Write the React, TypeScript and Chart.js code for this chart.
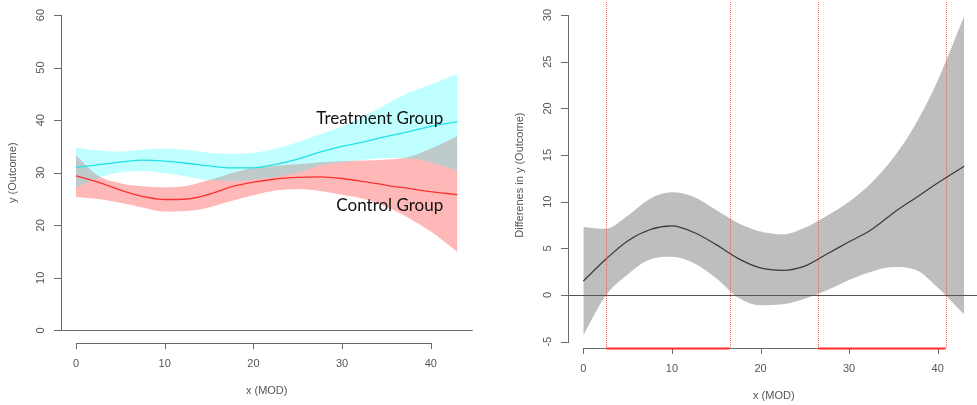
import React, { useEffect, useRef } from "react";
import { Chart, registerables } from "chart.js";
Chart.register(...registerables);

// ---------- data ----------
const modX = [0, 2.5, 5, 7.5, 10, 12.5, 15, 17.5, 20, 22.5, 25, 27.5, 30, 32.5, 35, 37.5, 40, 43];

const treatFit = [31.0, 31.5, 32.0, 32.4, 32.2, 31.8, 31.3, 30.9, 30.9, 31.6, 32.6, 33.9, 35.0, 35.9, 36.9, 37.8, 38.8, 39.7];
const treatUpper = [34.8, 34.2, 34.0, 34.4, 34.6, 34.3, 33.8, 33.6, 33.8, 34.6, 35.8, 37.3, 38.8, 40.8, 43.0, 45.2, 46.8, 48.8];
const treatLower = [27.2, 29.0, 30.1, 30.3, 29.9, 29.3, 28.6, 28.4, 28.7, 29.2, 30.0, 31.3, 32.0, 32.5, 32.8, 32.7, 32.0, 30.3];

const ctrlFit = [29.4, 28.2, 26.7, 25.5, 24.9, 25.0, 25.9, 27.3, 28.2, 28.8, 29.1, 29.2, 28.9, 28.3, 27.6, 27.0, 26.4, 25.8];
const ctrlUpper = [33.3, 29.4, 28.0, 27.4, 27.2, 27.5, 28.6, 29.9, 30.9, 31.3, 31.6, 32.0, 32.2, 32.3, 32.5, 33.0, 34.6, 37.0];
const ctrlLower = [25.4, 25.0, 24.3, 23.4, 22.6, 22.7, 23.4, 24.6, 25.7, 26.6, 26.9, 26.5, 25.8, 25.0, 23.5, 21.4, 18.8, 14.9];

const diffFit = [1.5, 3.8, 5.8, 7.0, 7.4, 6.7, 5.4, 3.9, 2.9, 2.65, 3.1, 4.4, 5.7, 7.0, 8.8, 10.4, 12.0, 13.8];
const diffUpper = [7.3, 7.1, 8.5, 10.3, 11.0, 10.5, 9.1, 7.7, 6.8, 6.5, 7.2, 8.5, 10.0, 12.0, 14.7, 18.3, 23.0, 29.9];
const diffLower = [-4.3, -0.1, 2.2, 3.8, 4.1, 3.4, 1.8, -0.3, -1.1, -1.0, -0.4, 0.5, 1.6, 2.5, 3.0, 2.7, 0.8, -2.1];

const xTicks = [0, 10, 20, 30, 40];
const leftYTicks = [0, 10, 20, 30, 40, 50, 60];
const rightYTicks = [-5, 0, 5, 10, 15, 20, 25, 30];
const sigBounds = [2.6, 16.5, 26.5, 40.9];

const xTitle = "x (MOD)";
const leftYTitle = "y (Outcome)";
const rightYTitle = "Differenes in y (Outcome)";
const groupLabels = ["Treatment Group", "Control Group"];

const pts = (ys: number[]) => modX.map((x, i) => ({ x, y: ys[i] }));

type Cfg = {
  yTicks: number[];
  yTitle: string;
  zeroColor: string;
  bounds?: number[];
  labels?: { text: string; x: number; y: number }[];
};

// ---------- one plugin instance per chart: R-style axes, ablines, labels ----------
function makeRPlugin(id: string, cfg: Cfg) {
  return {
    id,
    afterDatasetsDraw(chart: any) {
      const { ctx, chartArea: ca, scales } = chart;
      const xs = scales.x, ys = scales.y;
      ctx.save();
      ctx.setLineDash([]);
      // abline h = 0
      const y0 = Math.round(ys.getPixelForValue(0));
      ctx.fillStyle = cfg.zeroColor;
      ctx.fillRect(ca.left, y0, ca.right - ca.left, 1);
      if (cfg.bounds) {
        ctx.strokeStyle = "rgba(255,60,60,0.75)";
        ctx.lineWidth = 1;
        ctx.setLineDash([1, 1]);
        cfg.bounds.forEach((b) => {
          const p = Math.round(xs.getPixelForValue(b)) + 0.5;
          ctx.beginPath();
          ctx.moveTo(p, ca.top);
          ctx.lineTo(p, ca.bottom);
          ctx.stroke();
        });
        ctx.setLineDash([]);
      }
      if (cfg.labels) {
        ctx.fillStyle = "#111";
        ctx.font = "17px Lato, 'Open Sans', sans-serif";
        ctx.textAlign = "right";
        ctx.textBaseline = "middle";
        cfg.labels.forEach((l) => {
          ctx.fillText(l.text, xs.getPixelForValue(l.x), ys.getPixelForValue(l.y));
        });
      }
      ctx.restore();
    },
    afterDraw(chart: any) {
      const { ctx, chartArea: ca, scales } = chart;
      const xs = scales.x, ys = scales.y;
      ctx.save();
      ctx.setLineDash([]);
      ctx.globalAlpha = 1;
      ctx.globalCompositeOperation = "source-over";
      ctx.fillStyle = "#6a6a6a";
      // y axis line + ticks (as 1px rects)
      const left = Math.round(ca.left);
      const yt = cfg.yTicks;
      const yTop = Math.round(ys.getPixelForValue(yt[yt.length - 1]));
      const yBot = Math.round(ys.getPixelForValue(yt[0]));
      ctx.fillRect(left, yTop, 1, yBot - yTop + 1);
      yt.forEach((v) => {
        const p = Math.round(ys.getPixelForValue(v));
        ctx.fillRect(left - 7, p, 7, 1);
      });
      // x axis line + ticks
      const bottom = Math.round(ca.bottom);
      const xl = Math.round(xs.getPixelForValue(xTicks[0]));
      const xr = Math.round(xs.getPixelForValue(xTicks[xTicks.length - 1]));
      ctx.fillRect(xl, bottom, xr - xl + 1, 1);
      xTicks.forEach((v) => {
        const p = Math.round(xs.getPixelForValue(v));
        ctx.fillRect(p, bottom, 1, 6);
      });
      // significance segments on the x axis
      if (cfg.bounds) {
        const b = cfg.bounds;
        ctx.fillStyle = "#ff2a2a";
        for (let i = 0; i + 1 < b.length; i += 2) {
          const a = xs.getPixelForValue(b[i]);
          const c = xs.getPixelForValue(b[i + 1]);
          ctx.fillRect(a, bottom - 0.5, c - a, 2);
        }
      }
      // labels
      ctx.fillStyle = "#555";
      ctx.font = "11px 'Liberation Sans', Arial, sans-serif";
      ctx.textAlign = "center";
      ctx.textBaseline = "middle";
      yt.forEach((v) => {
        ctx.save();
        ctx.translate(left - 20.5, ys.getPixelForValue(v));
        ctx.rotate(-Math.PI / 2);
        ctx.fillText(String(v), 0, 0);
        ctx.restore();
      });
      ctx.save();
      ctx.translate(left - 48.5, (ca.top + ca.bottom) / 2);
      ctx.rotate(-Math.PI / 2);
      ctx.fillText(cfg.yTitle, 0, 0);
      ctx.restore();
      xTicks.forEach((v) => {
        ctx.fillText(String(v), xs.getPixelForValue(v), bottom + 20.5);
      });
      ctx.fillText(xTitle, (ca.left + ca.right) / 2, bottom + 47.5);
      ctx.restore();
    },
  };
}

const lineBase = {
  pointRadius: 0,
  cubicInterpolationMode: "monotone" as const,
  fill: false,
};

function LeftChart() {
  const ref = useRef<HTMLCanvasElement>(null);
  useEffect(() => {
    const chart = new Chart(ref.current!, {
      type: "line",
      data: {
        datasets: [
          { ...lineBase, data: pts(treatLower), borderWidth: 0, borderColor: "transparent" },
          { ...lineBase, data: pts(treatUpper), borderWidth: 0, borderColor: "transparent", fill: "-1", backgroundColor: "rgba(0,255,255,0.25)" },
          { ...lineBase, data: pts(treatFit), borderWidth: 1.3, borderColor: "#22e0e6" },
          { ...lineBase, data: pts(ctrlLower), borderWidth: 0, borderColor: "transparent" },
          { ...lineBase, data: pts(ctrlUpper), borderWidth: 0, borderColor: "transparent", fill: "-1", backgroundColor: "rgba(255,0,0,0.28)" },
          { ...lineBase, data: pts(ctrlFit), borderWidth: 1.3, borderColor: "#ff3030" },
        ],
      },
      options: {
        animation: false,
        responsive: false,
        events: [],
        layout: { padding: { left: 60.7, right: 17.3, top: 2.4, bottom: 62 } },
        scales: {
          x: { type: "linear", min: -1.72, max: 44.72, display: false },
          y: { type: "linear", min: -2.4, max: 62.4, display: false },
        },
        plugins: {
          legend: { display: false },
          tooltip: { enabled: false },
          filler: { drawTime: "beforeDatasetsDraw" },
        } as any,
      },
      plugins: [
        makeRPlugin("rLeft", {
          yTicks: leftYTicks,
          yTitle: leftYTitle,
          zeroColor: "#6a6a6a",
          labels: [
            { text: groupLabels[0], x: 41.4, y: 40.4 },
            { text: groupLabels[1], x: 41.4, y: 23.7 },
          ],
        }),
      ],
    });
    return () => chart.destroy();
  }, []);
  return <canvas ref={ref} width={490} height={405} style={{ position: "absolute", left: 0, top: 0, zIndex: 1 }} />;
}

function RightChart() {
  const ref = useRef<HTMLCanvasElement>(null);
  useEffect(() => {
    const chart = new Chart(ref.current!, {
      type: "line",
      data: {
        datasets: [
          { ...lineBase, data: pts(diffLower), borderWidth: 0, borderColor: "transparent" },
          { ...lineBase, data: pts(diffUpper), borderWidth: 0, borderColor: "transparent", fill: "-1", backgroundColor: "#bebebe" },
          { ...lineBase, data: pts(diffFit), borderWidth: 1.2, borderColor: "#3a3a3a" },
        ],
      },
      options: {
        animation: false,
        responsive: false,
        events: [],
        layout: { padding: { left: 78.1, right: 5.5, top: 2, bottom: 56.7 } },
        scales: {
          x: { type: "linear", min: -1.72, max: 44.72, display: false },
          y: { type: "linear", min: -5.71, max: 31.4, display: false },
        },
        plugins: {
          legend: { display: false },
          tooltip: { enabled: false },
          filler: { drawTime: "beforeDatasetsDraw" },
        } as any,
      },
      plugins: [
        makeRPlugin("rRight", {
          yTicks: rightYTicks,
          yTitle: rightYTitle,
          zeroColor: "#555",
          bounds: sigBounds,
        }),
      ],
    });
    return () => chart.destroy();
  }, []);
  return <canvas ref={ref} width={495} height={405} style={{ position: "absolute", left: 490, top: 0, zIndex: 2 }} />;
}

export default function App() {
  return (
    <div style={{ position: "fixed", left: 0, top: 0, width: 977, height: 405, overflow: "hidden", background: "#fff" }}>
      <LeftChart />
      <RightChart />
    </div>
  );
}
